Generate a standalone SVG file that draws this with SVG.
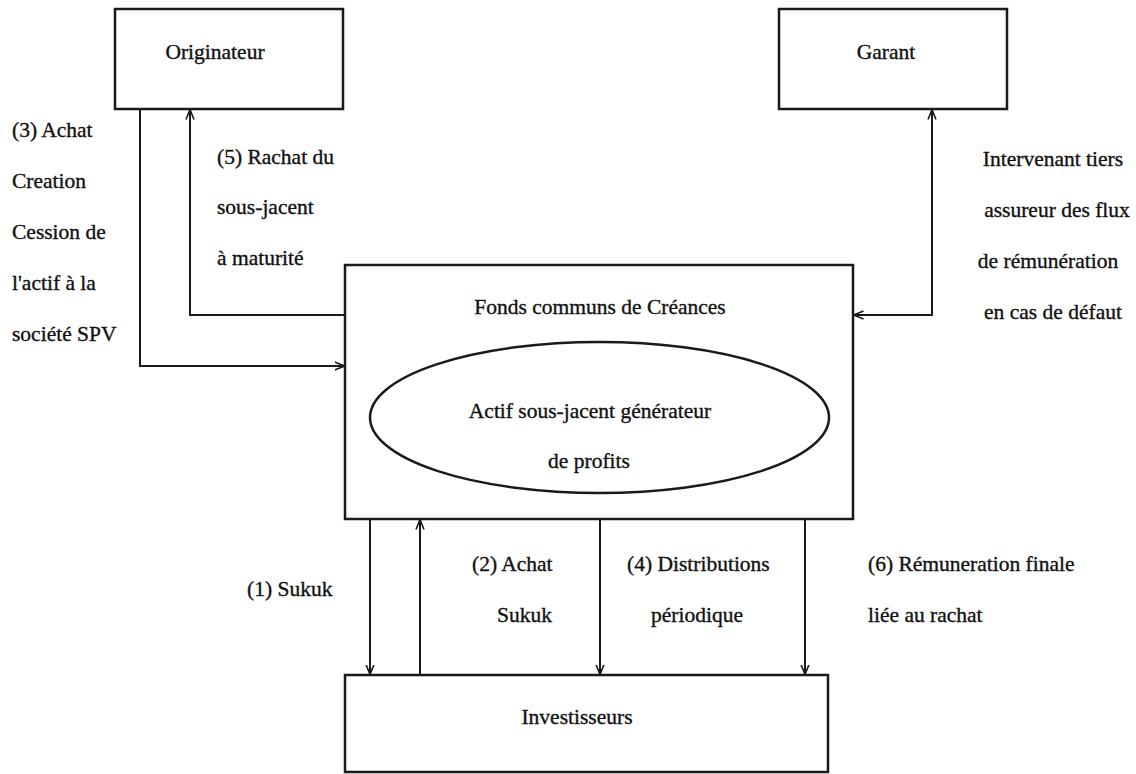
<svg xmlns="http://www.w3.org/2000/svg" width="1136" height="774" viewBox="0 0 1136 774">
  <style>
    .box { fill: #ffffff; stroke: #1a1a1a; stroke-width: 2.5; }
    .link { fill: none; stroke: #1a1a1a; stroke-width: 2; }
    .c { text-anchor: middle; }
  </style>
  <defs>
    <marker id="arrow" viewBox="0 0 10 10" refX="9.5" refY="5" markerWidth="10" markerHeight="10" markerUnits="userSpaceOnUse" orient="auto-start-reverse">
      <path d="M0,1 L10,5 L0,9" fill="none" stroke="#1a1a1a" stroke-width="1.6"/>
    </marker>
  </defs>
  <rect width="1136" height="774" fill="#ffffff"/>

  <!-- Connectors -->
  <g id="connectors">
    <!-- (3) Originateur to fund -->
    <polyline class="link" points="140,109 140,366 344,366" marker-end="url(#arrow)"/>
    <!-- (5) fund back to Originateur -->
    <polyline class="link" points="345,315 190,315 190,110" marker-end="url(#arrow)"/>
    <!-- Garant guarantee, arrow at both ends -->
    <polyline class="link" points="932,110 932,315 854,315" marker-start="url(#arrow)" marker-end="url(#arrow)"/>
    <!-- (1) Sukuk -->
    <line class="link" x1="370" y1="519" x2="370" y2="674" marker-end="url(#arrow)"/>
    <!-- (2) Achat Sukuk -->
    <line class="link" x1="420" y1="675" x2="420" y2="520" marker-end="url(#arrow)"/>
    <!-- (4) Distributions -->
    <line class="link" x1="600" y1="519" x2="600" y2="674" marker-end="url(#arrow)"/>
    <!-- (6) Final remuneration -->
    <line class="link" x1="805" y1="519" x2="805" y2="674" marker-end="url(#arrow)"/>
  </g>

  <g font-family="'Liberation Serif', 'Times New Roman', 'DejaVu Serif', serif" font-size="21.5" fill="#111111" stroke="#111111" stroke-width="0.35">
    <!-- Connector labels -->
    <g id="labels">
      <text x="12" y="137">(3) Achat</text>
      <text x="12" y="188">Creation</text>
      <text x="12" y="239">Cession de</text>
      <text x="12" y="290">l'actif à la</text>
      <text x="12" y="341">société SPV</text>

      <text x="217" y="164">(5) Rachat du</text>
      <text x="217" y="214">sous-jacent</text>
      <text x="217" y="265">à maturité</text>

      <text class="c" x="1053" y="166">Intervenant tiers</text>
      <text class="c" x="1057" y="217">assureur des flux</text>
      <text class="c" x="1048" y="268">de rémunération</text>
      <text class="c" x="1053" y="319">en cas de défaut</text>

      <text x="247" y="596">(1) Sukuk</text>
      <text x="472" y="571">(2) Achat</text>
      <text x="497" y="622">Sukuk</text>
      <text x="627" y="571">(4) Distributions</text>
      <text x="651" y="622">périodique</text>
      <text x="868" y="571">(6) Rémuneration finale</text>
      <text x="868" y="622">liée au rachat</text>
    </g>

    <g id="originateur">
      <rect class="box" x="115" y="9" width="228" height="100"/>
      <text class="c" x="215" y="59">Originateur</text>
    </g>

    <g id="garant">
      <rect class="box" x="779" y="9" width="228" height="100"/>
      <text class="c" x="886" y="59">Garant</text>
    </g>

    <g id="fonds">
      <rect class="box" x="345" y="265" width="508" height="254"/>
      <text class="c" x="600" y="314">Fonds communs de Créances</text>
    </g>

    <g id="actif">
      <ellipse cx="599.5" cy="417.5" rx="229.5" ry="75.5" fill="none" stroke="#1a1a1a" stroke-width="2.5"/>
      <text class="c" x="590" y="418">Actif sous-jacent générateur</text>
      <text class="c" x="589" y="468">de profits</text>
    </g>

    <g id="investisseurs">
      <rect class="box" x="345" y="675" width="483" height="97"/>
      <text class="c" x="577" y="724">Investisseurs</text>
    </g>
  </g>
</svg>
